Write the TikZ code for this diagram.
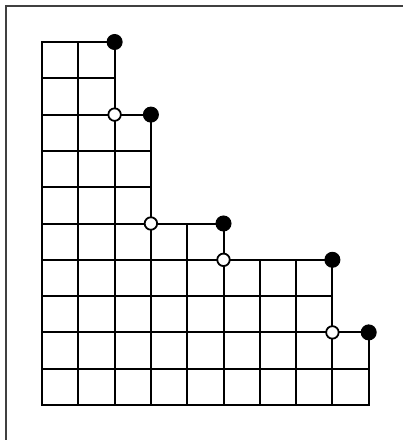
\documentclass[tikz,border=0pt]{standalone}
\begin{document}
\begin{tikzpicture}[x=1pt,y=-1pt,
  gridline/.style={line width=2pt, black, line cap=rect},
  frameline/.style={draw=black!75, line width=2pt},
  full/.style={circle, fill=black, draw=black, line width=1pt, minimum size=15pt, inner sep=0pt},
  hollow/.style={circle, fill=white, draw=black, line width=1.8pt, minimum size=12.5pt, inner sep=0pt}]
\useasboundingbox (0,0) rectangle (403,440);
\clip (0,0) rectangle (403,440);
\draw[frameline] (5.5,5.5) rectangle (420,460);
\def\u{36.3}
\def\o{42}
% horizontal lines (index / length)
\foreach \j/\l in {0/2,1/2,2/3,3/3,4/3,5/5,6/8,7/8,8/9,9/9,10/9}
  \draw[gridline] ({\o},{\o+\j*\u}) -- ({\o+\l*\u},{\o+\j*\u});
% vertical lines (index / top row)
\foreach \i/\t in {0/0,1/0,2/0,3/2,4/5,5/5,6/6,7/6,8/6,9/8}
  \draw[gridline] ({\o+\i*\u},{\o+\t*\u}) -- ({\o+\i*\u},{\o+10*\u});
% outer corners
\node[full] (f1) at ({\o+2*\u},{\o+0*\u}) {};
\node[full] (f2) at ({\o+3*\u},{\o+2*\u}) {};
\node[full] (f3) at ({\o+5*\u},{\o+5*\u}) {};
\node[full] (f4) at ({\o+8*\u},{\o+6*\u}) {};
\node[full] (f5) at ({\o+9*\u},{\o+8*\u}) {};
% inner corners
\node[hollow] (h1) at ({\o+2*\u},{\o+2*\u}) {};
\node[hollow] (h2) at ({\o+3*\u},{\o+5*\u}) {};
\node[hollow] (h3) at ({\o+5*\u},{\o+6*\u}) {};
\node[hollow] (h4) at ({\o+8*\u},{\o+8*\u}) {};
\end{tikzpicture}
\end{document}
